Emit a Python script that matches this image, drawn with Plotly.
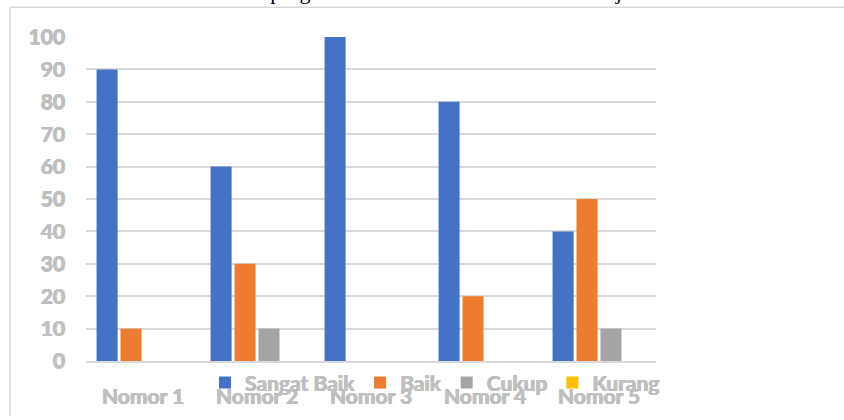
import plotly.graph_objects as go

# Survey results per question item
categories = ["Nomor 1", "Nomor 2", "Nomor 3", "Nomor 4", "Nomor 5"]
sangat_baik = [90, 60, 100, 80, 40]
baik = [10, 30, 0, 20, 50]
cukup = [0, 10, 0, 0, 10]
kurang = [0, 0, 0, 0, 0]

series = [
    ("Sangat Baik", sangat_baik, "#4472C4"),
    ("Baik", baik, "#ED7D31"),
    ("Cukup", cukup, "#A5A5A5"),
    ("Kurang", kurang, "#FFC000"),
]

W, H = 844, 420
L, R, T, B = 86, 188, 37, 56
pw, ph = W - L - R, H - T - B


def px_x(p):
    return (p - L) / pw


def px_y(p):
    return (H - B - p) / ph


# heavy grey label text; the shadow thickens the strokes a little
label_font = dict(
    family="Lato", size=21, color="#BFBFBF", weight="bold",
    shadow="0.6px 0 0 #BFBFBF, -0.4px 0 0 #BFBFBF, 0 0.4px 0 #BFBFBF",
)

fig = go.Figure()
for name, vals, color in series:
    fig.add_trace(go.Bar(
        x=categories, y=vals, name=name,
        marker=dict(color=color, line=dict(width=0)),
    ))

frame = dict(color="#D9D9D9", width=1.5)

fig.update_layout(
    width=W, height=H,
    margin=dict(l=L, r=R, t=T, b=B),
    paper_bgcolor="white", plot_bgcolor="white",
    barmode="group", bargap=0.16, bargroupgap=0.12,
    showlegend=True,
    legend=dict(
        orientation="h", x=px_x(205), xanchor="left",
        y=px_y(386), yanchor="middle",
        font=label_font, bgcolor="rgba(0,0,0,0)",
        itemsizing="constant", tracegroupgap=0,
    ),
    xaxis=dict(
        showgrid=False, showline=True, linecolor="#D9D9D9", linewidth=1.5,
        tickfont=label_font, ticks="", ticklabelstandoff=16,
    ),
    yaxis=dict(
        range=[0, 100], dtick=10, showgrid=True, gridcolor="#D9D9D9",
        gridwidth=1.5, zeroline=False, showline=False, ticks="",
        tickfont=label_font, ticklabelstandoff=20,
    ),
    shapes=[
        # chart frame: top and left edges
        dict(type="line", xref="paper", yref="paper",
             x0=px_x(10), x1=px_x(844), y0=px_y(7), y1=px_y(7),
             line=frame, layer="below"),
        dict(type="line", xref="paper", yref="paper",
             x0=px_x(10), x1=px_x(10), y0=px_y(7), y1=px_y(420),
             line=frame, layer="below"),
    ],
    annotations=[
        dict(text="Evaluasi program PJJ BIPA di Kazakstan dan Tajikistan",
             xref="paper", yref="paper", x=px_x(435), y=px_y(6),
             xanchor="center", yanchor="bottom", showarrow=False,
             font=dict(family="Liberation Serif", size=22, color="black")),
    ],
)

fig.write_html("out.html")
